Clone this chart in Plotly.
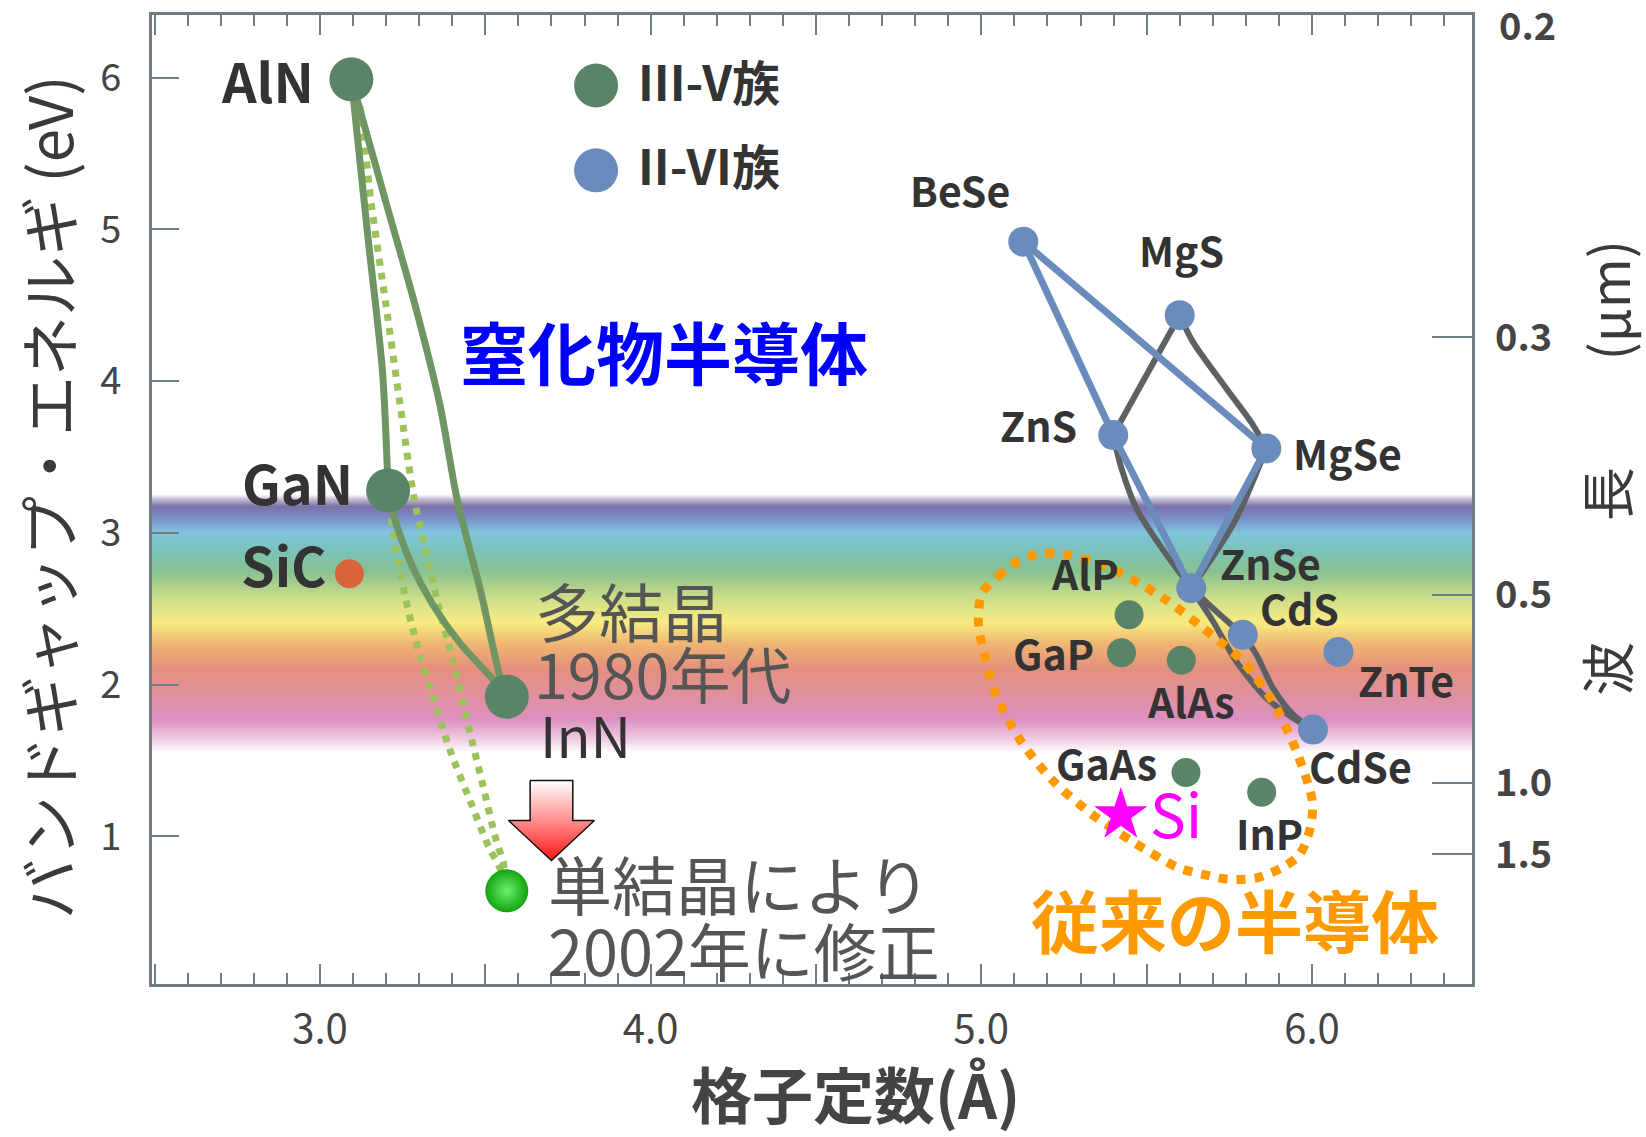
import plotly.graph_objects as go

# ------------------------------------------------------------------ data
x_range = [2.492, 6.484]
y_range = [0.026, 6.414]
x_major_ticks = [2.5, 3.0, 3.5, 4.0, 4.5, 5.0, 5.5, 6.0, 6.5]
x_tick_labels = ["", "3.0", "", "4.0", "", "5.0", "", "6.0", ""]
y_ticks = [1, 2, 3, 4, 5, 6]
wavelength_labels = ["0.3", "0.5", "1.0", "1.5"]
wavelength_tick_energy = [4.29, 2.59, 1.35, 0.88]
top_wavelength_label = "0.2"
top_wavelength_energy = 6.36

# nitride III-V (1980s values)
nitride_names = ["AlN", "GaN", "InN"]
nitride_a = [3.095, 3.206, 3.565]
nitride_eg = [5.99, 3.28, 1.92]
# InN revised 2002
inn_new_a = [3.565]
inn_new_eg = [0.64]
# SiC
sic_a = [3.089]
sic_eg = [2.73]
# conventional III-V
conv_names = ["AlP", "GaP", "AlAs", "GaAs", "InP"]
conv_a = [5.447, 5.424, 5.605, 5.619, 5.848]
conv_eg = [2.46, 2.21, 2.16, 1.42, 1.29]
# Si
si_a = [5.422]
si_eg = [1.14]
# II-VI
ii_vi_names = ["BeSe", "MgS", "ZnS", "MgSe", "ZnSe", "CdS", "ZnTe", "CdSe"]
ii_vi_a = [5.127, 5.600, 5.399, 5.862, 5.635, 5.791, 6.080, 6.003]
ii_vi_eg = [4.92, 4.435, 3.645, 3.557, 2.635, 2.328, 2.215, 1.703]

# alloy curves (a, Eg)
aln_gan_a = [3.095, 3.145, 3.189, 3.206]
aln_gan_eg = [5.99, 4.95, 4.065, 3.28]
gan_inn_a = [3.206, 3.221, 3.275, 3.340, 3.425, 3.521, 3.565]
gan_inn_eg = [3.28, 3.125, 2.800, 2.531, 2.268, 2.040, 1.92]
aln_inn_a = [3.095, 3.206, 3.286, 3.362, 3.416, 3.486, 3.543, 3.565]
aln_inn_eg = [5.99, 5.129, 4.514, 3.851, 3.208, 2.614, 2.061, 1.92]
aln_innnew_a = [3.095, 3.117, 3.155, 3.199, 3.242, 3.286, 3.329, 3.361, 3.403, 3.448, 3.492, 3.530, 3.556, 3.565]
aln_innnew_eg = [5.99, 5.856, 5.172, 4.511, 3.850, 3.211, 2.800, 2.496, 2.151, 1.736, 1.342, 0.997, 0.810, 0.64]
gan_innnew_a = [3.206, 3.221, 3.254, 3.295, 3.340, 3.394, 3.457, 3.511, 3.543, 3.565]
gan_innnew_eg = [3.28, 3.014, 2.617, 2.247, 1.929, 1.563, 1.218, 0.927, 0.796, 0.64]

# II-VI connections
blue_segments = [
    ([5.127, 5.399], [4.92, 3.645]),   # BeSe-ZnS
    ([5.127, 5.862], [4.92, 3.557]),   # BeSe-MgSe
    ([5.399, 5.635], [3.645, 2.635]),  # ZnS-ZnSe
    ([5.862, 5.635], [3.557, 2.635]),  # MgSe-ZnSe
]
grey_segments = [
    ([5.399, 5.600], [3.645, 4.435]),                                   # ZnS-MgS
    ([5.600, 5.640, 5.741, 5.822, 5.862], [4.435, 4.259, 3.952, 3.711, 3.557]),  # MgS-MgSe
    ([5.399, 5.424, 5.469, 5.539, 5.635], [3.645, 3.425, 3.162, 2.921, 2.635]),  # ZnS-ZnSe
    ([5.862, 5.765, 5.635], [3.557, 3.07, 2.635]),                      # MgSe-ZnSe
    ([5.635, 5.711, 5.791], [2.635, 2.482, 2.328]),                     # ZnSe-CdS
    ([5.635, 5.701, 5.771, 5.862, 5.943, 6.003], [2.635, 2.416, 2.153, 1.911, 1.779, 1.703]),  # ZnSe-CdSe
    ([5.791, 5.832, 5.882, 5.943, 6.003], [2.328, 2.197, 1.977, 1.802, 1.703]),  # CdS-CdSe
]

# "conventional semiconductors" outline
loop_a = [5.002, 5.050, 5.110, 5.185, 5.261, 5.336, 5.412, 5.552, 5.671, 5.790, 5.887, 5.957,
          6.001, 5.995, 5.963, 5.909, 5.833, 5.747, 5.671, 5.596, 5.455, 5.336, 5.218, 5.120,
          5.045, 5.002, 4.991, 5.002]
loop_eg = [2.602, 2.712, 2.811, 2.866, 2.855, 2.811, 2.745, 2.569, 2.372, 2.153, 1.868, 1.539,
           1.231, 1.055, 0.880, 0.792, 0.726, 0.716, 0.749, 0.792, 0.968, 1.143, 1.363, 1.626,
           1.933, 2.263, 2.416, 2.602]

# visible spectrum band (energy, colour)
band_energy = [1.56, 1.65, 1.78, 1.91, 2.11, 2.26, 2.42, 2.59, 2.75, 2.88, 3.01, 3.10, 3.18, 3.225, 3.26]
band_color = ["#ffffff", "#f0cce4", "#dc90c0", "#e090a4", "#e4907e", "#eeb072", "#f8ec82",
              "#c8dc8a", "#88c290", "#7cc2b6", "#80c4de", "#7a90c8", "#7c70a8", "#bdb8d0", "#ffffff"]

# ------------------------------------------------------------------ style
FONT = "Noto Sans CJK JP"
AXIS_GREY = "#6f7d84"
GREEN = "#5a8468"
GREEN_LINE = "#6f9563"
GREEN_DOT = "#9cc25a"
BLUE = "#6a8cbc"
GREY_LINE = "#5d6163"
ORANGE = "#ff9900"
DARK = "#333333"
MID = "#555555"

label_pos = {
    "AlN": (2.842, 5.95), "GaN": (2.933, 3.30), "SiC": (2.890, 2.76),
    "BeSe": (4.936, 5.225), "MgS": (5.605, 4.83), "ZnS": (5.173, 3.678), "MgSe": (6.108, 3.491),
    "ZnSe": (5.876, 2.767), "AlP": (5.315, 2.701), "CdS": (5.963, 2.471), "GaP": (5.218, 2.174),
    "AlAs": (5.634, 1.857), "GaAs": (5.380, 1.450), "CdSe": (6.146, 1.429), "InP": (5.871, 0.989),
}

fig = go.Figure()

# band
lo, hi = band_energy[0], band_energy[-1]
band_scale = [[(e - lo) / (hi - lo), c] for e, c in zip(band_energy, band_color)]
fig.add_trace(go.Scatter(
    x=[x_range[0], x_range[1], x_range[1], x_range[0], x_range[0]],
    y=[lo, lo, hi, hi, lo], mode="lines", line=dict(width=0), fill="toself",
    fillgradient=dict(type="vertical", colorscale=band_scale, start=lo, stop=hi),
    hoverinfo="skip"))


def add_line(a, eg, color, width, dash=None, shape="spline"):
    fig.add_trace(go.Scatter(x=a, y=eg, mode="lines",
                             line=dict(color=color, width=width, dash=dash, shape=shape, smoothing=0.8),
                             hoverinfo="skip"))


# dotted revised InN curves
add_line(aln_innnew_a, aln_innnew_eg, GREEN_DOT, 7, dash="7px,7px")
add_line(gan_innnew_a, gan_innnew_eg, GREEN_DOT, 7, dash="7px,7px")
# solid nitride curves
add_line(aln_gan_a, aln_gan_eg, GREEN_LINE, 7)
add_line(gan_inn_a, gan_inn_eg, GREEN_LINE, 7)
add_line(aln_inn_a, aln_inn_eg, GREEN_LINE, 7)

# II-VI lines
for a, eg in grey_segments:
    add_line(a, eg, GREY_LINE, 6)
for a, eg in blue_segments:
    add_line(a, eg, BLUE, 7, shape="linear")

# orange outline
add_line(loop_a, loop_eg, ORANGE, 9, dash="9px,9px")

# markers
fig.add_trace(go.Scatter(x=nitride_a, y=nitride_eg, mode="markers",
                         marker=dict(size=44, color=GREEN, line=dict(width=0)), hoverinfo="skip"))
fig.add_trace(go.Scatter(x=inn_new_a, y=inn_new_eg, mode="markers",
                         marker=dict(size=43, color="#10a410", line=dict(width=0),
                                     gradient=dict(type="radial", color="#6cf06c")), hoverinfo="skip"))
fig.add_trace(go.Scatter(x=sic_a, y=sic_eg, mode="markers",
                         marker=dict(size=29, color="#d9643a", line=dict(width=0)), hoverinfo="skip"))
fig.add_trace(go.Scatter(x=conv_a, y=conv_eg, mode="markers",
                         marker=dict(size=29, color=GREEN, line=dict(width=0)), hoverinfo="skip"))
fig.add_trace(go.Scatter(x=ii_vi_a, y=ii_vi_eg, mode="markers",
                         marker=dict(size=30, color=BLUE, line=dict(width=0)), hoverinfo="skip"))
fig.add_trace(go.Scatter(x=si_a, y=si_eg, mode="markers",
                         marker=dict(size=40, color="#ff00ff", symbol="star", line=dict(width=0)),
                         hoverinfo="skip"))

# legend markers
fig.add_trace(go.Scatter(x=[3.835, 3.835], y=[5.949, 5.390], mode="markers",
                         marker=dict(size=44, color=[GREEN, BLUE], line=dict(width=0)), hoverinfo="skip"))

# arrow (white -> red)
ac, atop, aneck, atip, aw, ahw = 3.70, 1.367, 1.104, 0.84, 0.0645, 0.13
fig.add_trace(go.Scatter(
    x=[ac - aw, ac + aw, ac + aw, ac + ahw, ac, ac - ahw, ac - aw, ac - aw],
    y=[atop, atop, aneck, aneck, atip, aneck, aneck, atop],
    mode="lines", line=dict(color="#111111", width=1.5), fill="toself",
    fillgradient=dict(type="vertical", colorscale=[[0, "#ff1414"], [0.55, "#ff9a9a"], [1, "#ffffff"]]),
    hoverinfo="skip"))

# invisible carrier so the right-hand (wavelength) axis is drawn
fig.add_trace(go.Scatter(x=[x_range[1]] * len(wavelength_tick_energy), y=wavelength_tick_energy,
                         yaxis="y2", mode="markers", marker=dict(opacity=0, size=1),
                         hoverinfo="skip"))

# ------------------------------------------------------------------ annotations
ann = []


def txt(text, x, y, size, color=DARK, bold=False, xanchor="center", xref="x", yref="y", angle=0, yshift=None):
    if yshift is None:
        yshift = 6 if yref == "y" else 0
    ann.append(dict(text=text, x=x, y=y, xref=xref, yref=yref, showarrow=False, xanchor=xanchor,
                    yanchor="middle", textangle=angle, yshift=yshift,
                    font=dict(family=FONT, size=size, color=color, weight="bold" if bold else "normal")))


for name in ["AlN", "GaN", "SiC"]:
    txt(name, *label_pos[name], 54, bold=True)
for name in ii_vi_names + conv_names:
    if name in label_pos:
        txt(name, *label_pos[name], 41, bold=True)
txt("ZnTe", 6.133, 2.000, 41, bold=True, xanchor="left")
txt("InN", 3.660, 1.637, 56, xanchor="left")
txt("多結晶", 3.645, 2.460, 64, color=MID, xanchor="left")
txt("1980年代", 3.640, 2.043, 61, color=MID, xanchor="left")
txt("単結晶により", 3.683, 0.660, 64, color=MID, xanchor="left")
txt("2002年に修正", 3.683, 0.222, 63, color=MID, xanchor="left")
txt("窒化物半導体", 4.041, 4.16, 68, color="#0000ff", bold=True)
txt("従来の半導体", 5.768, 0.419, 68, color=ORANGE, bold=True)
txt("Si", 5.590, 1.121, 60, color="#ff00ff")
txt("III-V族", 3.955, 5.949, 48, bold=True, xanchor="left")
txt("II-VI族", 3.955, 5.390, 48, bold=True, xanchor="left")

# axis titles
txt("バンドギャップ・エネルギ (eV)", -0.0795, 0.5026, 60, color="#3a3a3a", xref="paper", yref="paper", angle=-90)
txt("格子定数(Å)", 0.5326, -0.112, 61, color="#444444", bold=True, xref="paper", yref="paper")
txt("波", 1.1015, 0.3254, 54, color="#3a3a3a", xref="paper", yref="paper", angle=-90)
txt("長", 1.1015, 0.5057, 54, color="#3a3a3a", xref="paper", yref="paper", angle=-90)
txt("(μm)", 1.1015, 0.7054, 54, color="#3a3a3a", xref="paper", yref="paper", angle=-90)
txt(top_wavelength_label, 1.0417, top_wavelength_energy, 38, color="#444444", bold=True,
    xref="paper", yref="y", yshift=0)

fig.update_layout(
    width=1646, height=1137,
    margin=dict(l=152, r=174, t=13, b=153, pad=0),
    paper_bgcolor="white", plot_bgcolor="white",
    showlegend=False, hovermode=False,
    annotations=ann,
    xaxis=dict(range=x_range, tickmode="array", tickvals=x_major_ticks, ticktext=x_tick_labels,
               ticks="inside", ticklen=20, tickwidth=2, tickcolor=AXIS_GREY,
               minor=dict(tickmode="linear", tick0=2.5, dtick=0.1, ticks="inside", ticklen=11,
                          tickwidth=2, tickcolor=AXIS_GREY, showgrid=False),
               showline=True, linecolor=AXIS_GREY, linewidth=3, mirror="ticks",
               showgrid=False, zeroline=False, ticklabelstandoff=8,
               tickfont=dict(family=FONT, size=40, color="#444444")),
    yaxis=dict(range=y_range, tickmode="array", tickvals=y_ticks, ticks="inside", ticklen=27,
               tickwidth=2, tickcolor=AXIS_GREY, showline=True, linecolor=AXIS_GREY, linewidth=3,
               mirror=True, showgrid=False, zeroline=False, ticklabelstandoff=20,
               tickfont=dict(family=FONT, size=38, color="#444444")),
    yaxis2=dict(range=y_range, overlaying="y", side="right", anchor="x", tickmode="array",
                tickvals=wavelength_tick_energy, ticktext=wavelength_labels, ticks="inside",
                ticklen=40, tickwidth=2, tickcolor=AXIS_GREY, showline=False, showgrid=False,
                zeroline=False, ticklabelstandoff=22,
                tickfont=dict(family=FONT, size=38, color="#444444", weight="bold")),
)

fig.write_html("out.html", config={"displayModeBar": False},
               post_script="document.body.style.margin='0px';")
